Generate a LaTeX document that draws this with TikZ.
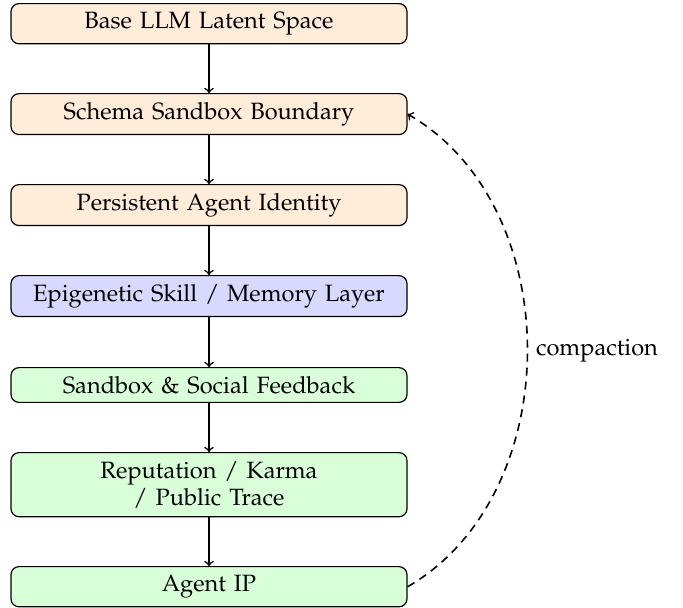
\documentclass[tikz,border=0pt]{standalone}
\usepackage[T1]{fontenc}
\usepackage{mathpazo}
\begin{document}
\begin{tikzpicture}[x=0.5pt,y=-0.5pt,
  every node/.style={font=\fontsize{11.8}{13.5}\selectfont},
  layer/.style={draw=black, line width=0.6pt, rounded corners=4pt, text width=190pt, align=center,
    inner xsep=4pt, inner ysep=4.3pt, anchor=north},
  warm/.style={layer, fill=orange!15},
  cool/.style={layer, fill=blue!15},
  fresh/.style={layer, fill=green!15},
  flow/.style={->, line width=0.8pt},
  loopback/.style={->, line width=0.8pt, dash pattern=on 4pt off 3pt}]
\useasboundingbox (0,0) rectangle (683,607);
\node[warm]  (base)   at (209,3)   {Base LLM Latent Space};
\node[warm]  (schema) at (209,93)  {Schema Sandbox Boundary};
\node[warm]  (ident)  at (209,184) {Persistent Agent Identity};
\node[cool]  (epi)    at (209,275) {Epigenetic Skill / Memory Layer};
\node[fresh] (sand)   at (209,367) {Sandbox \& Social Feedback};
\node[fresh] (rep)    at (209,452) {Reputation / Karma\\ / Public Trace};
\node[fresh] (ip)     at (209,566) {Agent IP};
\draw[flow] (base.south) -- (schema.north);
\draw[flow] (schema.south) -- (ident.north);
\draw[flow] (ident.south) -- (epi.north);
\draw[flow] (epi.south) -- (sand.north);
\draw[flow] (sand.south) -- (rep.north);
\draw[flow] (rep.south) -- (ip.north);
\draw[loopback] (ip.east) to[bend right=60] node[right, inner xsep=4pt] {compaction} (schema.east);
\end{tikzpicture}
\end{document}
